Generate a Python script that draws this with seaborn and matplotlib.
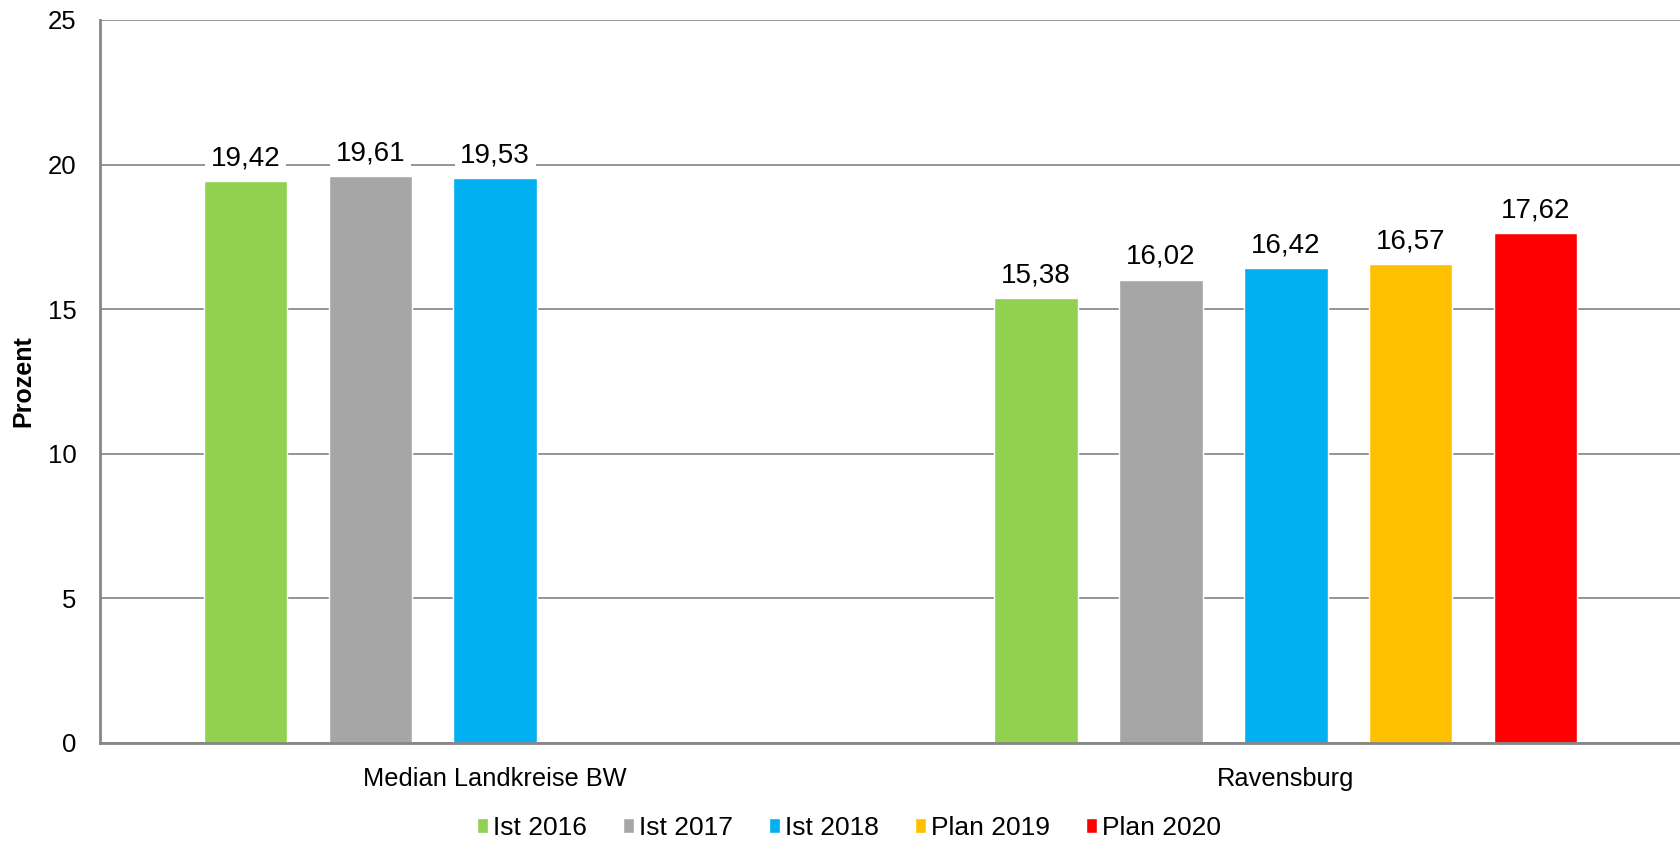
import pandas as pd
import seaborn as sns
import matplotlib.pyplot as plt
from matplotlib.patches import Patch

# Data
categories = ["Median Landkreise BW", "Ravensburg"]
series = ["Ist 2016", "Ist 2017", "Ist 2018", "Plan 2019", "Plan 2020"]
median_values = [19.42, 19.61, 19.53, None, None]
ravensburg_values = [15.38, 16.02, 16.42, 16.57, 17.62]
colors = ["#92D050", "#A6A6A6", "#00B0F0", "#FFC000", "#FF0000"]
y_ticks = [0, 5, 10, 15, 20, 25]

rows = []
for cat, vals in zip(categories, [median_values, ravensburg_values]):
    for s, v in zip(series, vals):
        if v is not None:
            rows.append({"Kategorie": cat, "Serie": s, "Wert": v})
df = pd.DataFrame(rows)

sns.set_theme(style="white")
plt.rcParams["font.family"] = ["Liberation Sans", "DejaVu Sans"]
plt.rcParams["text.color"] = "black"
plt.rcParams["axes.labelcolor"] = "black"

fig = plt.figure(figsize=(16.81, 8.44), dpi=100)
ax = fig.add_axes([100 / 1681, (844 - 743) / 844, 1 - 100 / 1681, (743 - 20) / 844])

sns.barplot(data=df, x="Kategorie", y="Wert", hue="Serie", order=categories,
            hue_order=series, palette=colors, width=0.79, gap=0.33,
            saturation=1, errorbar=None, legend=False, ax=ax)

# value labels with comma decimals
for cont in ax.containers:
    labels = [f"{v:.2f}".replace(".", ",") for v in cont.datavalues]
    ax.bar_label(cont, labels=labels, padding=7, fontsize=20, color="black",
                 bbox=dict(facecolor="white", edgecolor="none", pad=4))

ax.set_xlim(-0.5, 1.5)
ax.set_ylim(0, 25)
ax.set_yticks(y_ticks)
ax.yaxis.grid(True, color="#8C8C8C", linewidth=1.3)
ax.set_axisbelow(True)
for side in ["top", "right"]:
    ax.spines[side].set_visible(False)
for side in ["left", "bottom"]:
    ax.spines[side].set_color("#868686")
    ax.spines[side].set_linewidth(2)
ax.tick_params(axis="y", length=5, width=1.3, color="#868686", labelcolor="black",
               labelsize=18.5, pad=12)
ax.tick_params(axis="x", length=0, labelcolor="black", labelsize=18.3, pad=17)
ax.set_xlabel("")
ax.set_ylabel("Prozent", fontsize=18, fontweight="bold", color="black")
ax.yaxis.set_label_coords(-0.041, 0.5)

handles = [Patch(facecolor=c, label=s) for c, s in zip(colors, series)]
fig.legend(handles=handles, loc="center", bbox_to_anchor=(0.505, (844 - 828) / 844),
           ncol=5, frameon=False, fontsize=19, handlelength=0.42, handleheight=0.5,
           handletextpad=0.2, columnspacing=1.35)

fig.savefig("out.png", dpi=100)
